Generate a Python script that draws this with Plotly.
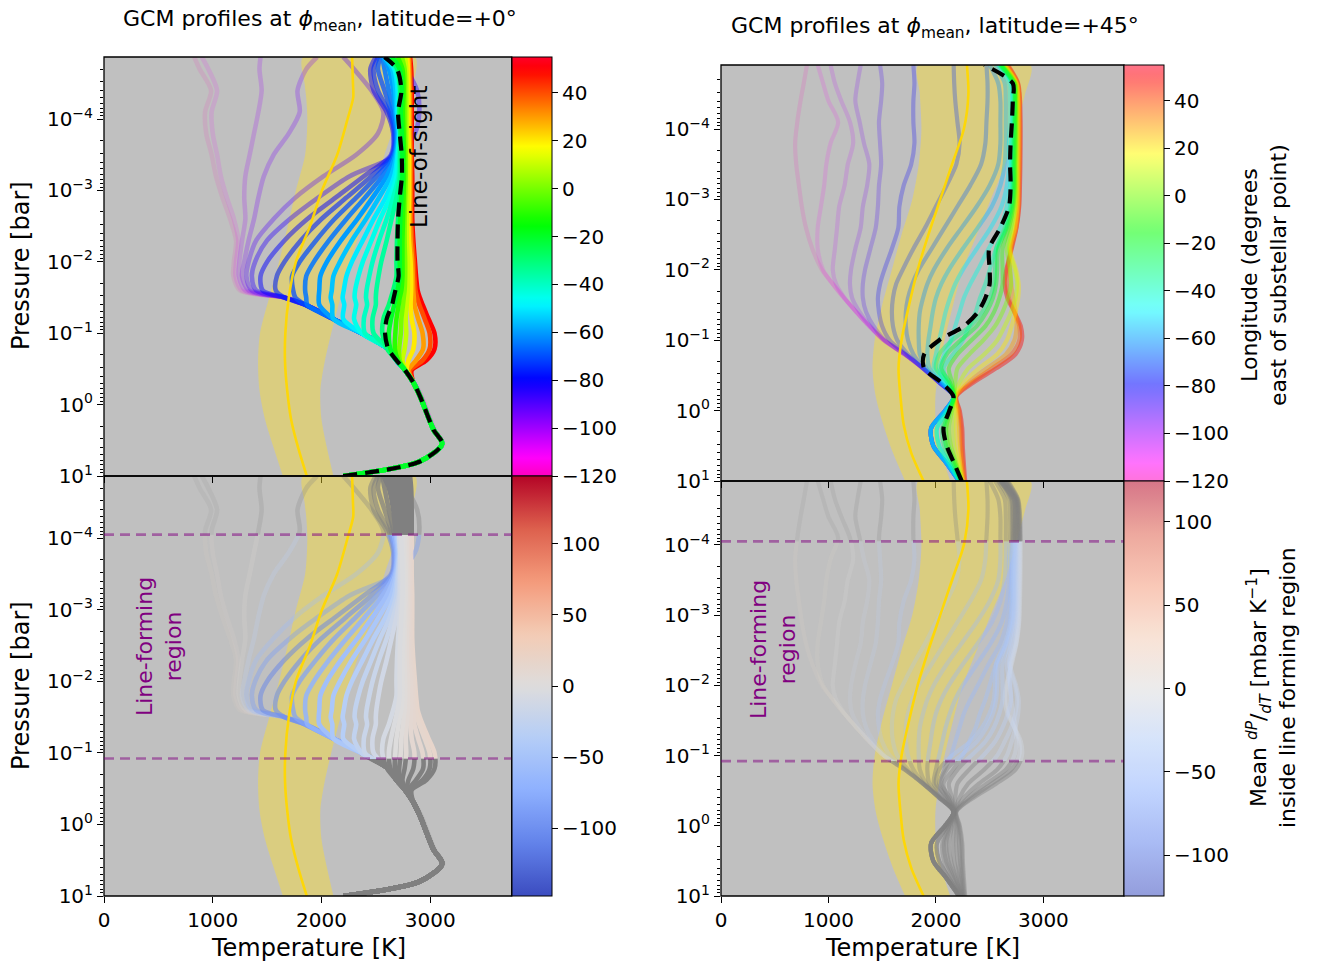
import numpy as np
import plotly.graph_objects as go

W, H = 1317, 963
FONT = "DejaVu Sans"

# ===================== DATA =====================
# ---- latitude = +0 deg : temperature profiles [K] on log10(p/bar) levels ----
LOGP_LAT0 = [1.0, 0.8, 0.55, 0.35, -0.12, -0.31, -0.48, -0.62, -0.78,
             -1.0, -1.2, -1.4, -1.5, -1.6, -1.8, -2.0, -2.3, -2.6, -2.9,
             -3.2, -3.5, -3.8, -4.1, -4.4, -4.7, -4.87]
T0_M120 = [2200, 2905, 3118, 3040, 2920, 2850, 2770, 2690, 2615, 2370, 2110, 1850, 1660, 1250, 1190, 1195, 1215, 1160, 1090, 1030, 990, 940, 930, 985, 880, 830]
T0_M110 = [2200, 2905, 3116, 3038, 2916, 2848, 2770, 2690, 2615, 2370, 2110, 1850, 1660, 1270, 1210, 1215, 1235, 1195, 1130, 1075, 1040, 1000, 990, 1040, 960, 900]
T0_M100 = [2200, 2903, 3114, 3035, 2912, 2847, 2770, 2690, 2615, 2370, 2110, 1850, 1660, 1300, 1240, 1245, 1270, 1300, 1290, 1300, 1340, 1380, 1420, 1450, 1430, 1440]
T0_M95 = [2200, 2902, 3112, 3033, 2909, 2846, 2770, 2690, 2615, 2370, 2110, 1850, 1660, 1330, 1270, 1290, 1330, 1380, 1420, 1470, 1560, 1700, 1800, 1780, 1860, 1960]
T0_M90 = [2200, 2900, 3110, 3030, 2906, 2845, 2770, 2690, 2615, 2370, 2110, 1850, 1660, 1360, 1310, 1330, 1400, 1560, 1760, 2020, 2320, 2520, 2570, 2460, 2300, 2200]
T0_M85 = [2200, 2900, 3110, 3030, 2906, 2845, 2770, 2690, 2615, 2370, 2110, 1850, 1660, 1400, 1360, 1390, 1500, 1710, 1970, 2260, 2700, 2860, 2900, 2880, 2780, 2700]
T0_M80 = [2200, 2900, 3110, 3030, 2906, 2845, 2770, 2690, 2615, 2370, 2110, 1850, 1660, 1460, 1440, 1500, 1660, 1870, 2130, 2390, 2640, 2660, 2600, 2480, 2450, 2500]
T0_M75 = [2200, 2900, 3110, 3030, 2906, 2845, 2770, 2690, 2615, 2370, 2110, 1850, 1660, 1580, 1590, 1660, 1810, 2000, 2230, 2460, 2650, 2670, 2620, 2520, 2480, 2520]
T0_M70 = [2200, 2900, 3110, 3030, 2906, 2845, 2770, 2690, 2615, 2370, 2110, 1850, 1760, 1740, 1730, 1800, 1950, 2120, 2320, 2510, 2660, 2680, 2640, 2580, 2520, 2540]
T0_M65 = [2200, 2900, 3110, 3030, 2906, 2845, 2770, 2690, 2615, 2370, 2110, 1870, 1860, 1850, 1860, 1930, 2070, 2230, 2400, 2560, 2670, 2690, 2660, 2620, 2580, 2560]
T0_M60 = [2200, 2900, 3110, 3030, 2906, 2845, 2770, 2690, 2615, 2370, 2110, 1980, 1975, 1980, 1990, 2050, 2180, 2330, 2470, 2600, 2680, 2700, 2680, 2660, 2620, 2570]
T0_M55 = [2200, 2900, 3110, 3030, 2906, 2845, 2770, 2690, 2615, 2370, 2110, 2100, 2085, 2095, 2110, 2170, 2280, 2410, 2530, 2640, 2690, 2710, 2690, 2680, 2650, 2580]
T0_M50 = [2200, 2900, 3110, 3030, 2906, 2845, 2770, 2690, 2615, 2370, 2200, 2210, 2195, 2205, 2230, 2280, 2380, 2480, 2590, 2670, 2700, 2715, 2700, 2700, 2670, 2590]
T0_M45 = [2200, 2900, 3110, 3030, 2906, 2845, 2770, 2690, 2615, 2370, 2300, 2320, 2305, 2310, 2340, 2380, 2460, 2540, 2630, 2690, 2705, 2720, 2710, 2715, 2680, 2600]
T0_M40 = [2200, 2900, 3110, 3030, 2906, 2845, 2770, 2690, 2615, 2400, 2390, 2420, 2410, 2415, 2440, 2470, 2530, 2600, 2660, 2710, 2715, 2725, 2715, 2720, 2690, 2610]
T0_M35 = [2200, 2900, 3110, 3030, 2906, 2845, 2770, 2690, 2615, 2480, 2470, 2500, 2500, 2505, 2525, 2550, 2600, 2645, 2690, 2720, 2725, 2730, 2720, 2730, 2700, 2620]
T0_M30 = [2200, 2900, 3110, 3030, 2906, 2845, 2770, 2690, 2605, 2560, 2570, 2620, 2640, 2660, 2690, 2690, 2695, 2705, 2720, 2730, 2730, 2725, 2715, 2725, 2700, 2620]
T0_M20 = [2200, 2900, 3110, 3030, 2906, 2845, 2770, 2695, 2635, 2620, 2640, 2670, 2685, 2700, 2720, 2720, 2720, 2725, 2735, 2745, 2745, 2740, 2730, 2740, 2720, 2650]
T0_M10 = [2200, 2900, 3110, 3030, 2906, 2845, 2770, 2705, 2675, 2680, 2690, 2710, 2720, 2735, 2745, 2745, 2745, 2750, 2755, 2760, 2760, 2755, 2750, 2755, 2745, 2700]
T0_P0 = [2200, 2900, 3110, 3030, 2906, 2845, 2772, 2720, 2715, 2730, 2735, 2750, 2757, 2765, 2770, 2770, 2765, 2765, 2770, 2775, 2775, 2770, 2770, 2770, 2765, 2740]
T0_P10 = [2200, 2900, 3110, 3030, 2906, 2845, 2776, 2745, 2765, 2780, 2775, 2785, 2790, 2795, 2795, 2795, 2785, 2785, 2790, 2790, 2790, 2785, 2785, 2785, 2780, 2770]
T0_P20 = [2200, 2900, 3110, 3030, 2906, 2845, 2785, 2800, 2845, 2855, 2830, 2820, 2822, 2825, 2825, 2820, 2805, 2800, 2805, 2805, 2805, 2800, 2800, 2800, 2795, 2790]
T0_P30 = [2200, 2900, 3110, 3030, 2906, 2845, 2800, 2870, 2935, 2930, 2890, 2855, 2850, 2845, 2840, 2835, 2820, 2815, 2815, 2815, 2815, 2810, 2810, 2810, 2805, 2800]
T0_P40 = [2200, 2900, 3110, 3030, 2906, 2845, 2815, 2930, 2995, 2995, 2950, 2900, 2880, 2865, 2855, 2850, 2835, 2825, 2825, 2825, 2825, 2820, 2820, 2820, 2815, 2810]
T0_P50 = [2200, 2900, 3110, 3030, 2906, 2845, 2830, 2965, 3040, 3040, 2985, 2930, 2905, 2885, 2870, 2860, 2845, 2835, 2835, 2835, 2830, 2830, 2830, 2830, 2825, 2815]
LOS_LAT0 = [2200, 2900, 3110, 3030, 2906, 2845, 2770, 2690, 2615, 2585, 2600, 2650, 2665, 2680, 2710, 2700, 2700, 2705, 2720, 2740, 2738, 2720, 2705, 2735, 2695, 2580]

LON_LAT0 = [-120, -110, -100, -95, -90, -85, -80, -75, -70, -65, -60, -55, -50,
            -45, -40, -35, -30, -20, -10, 0, 10, 20, 30, 40, 50]
PROF_LAT0 = [T0_M120, T0_M110, T0_M100, T0_M95, T0_M90, T0_M85, T0_M80, T0_M75,
             T0_M70, T0_M65, T0_M60, T0_M55, T0_M50, T0_M45, T0_M40, T0_M35,
             T0_M30, T0_M20, T0_M10, T0_P0, T0_P10, T0_P20, T0_P30, T0_P40, T0_P50]
DPDT_LAT0 = [20, 15, 5, -30, -60, -90, -110, -100, -85, -70, -55, -45, -35,
             -25, -18, -12, -8, -3, 0, 3, 6, 10, 12, 14, 16]

BAND_LOGP_LAT0 = [1.0, 0.6, 0.2, -0.2, -0.6, -1.0, -1.5, -2.0, -2.5, -3.0, -3.5, -4.0, -4.3, -4.5, -4.87]
BAND_MID_LAT0 = [1865, 1785, 1720, 1685, 1665, 1668, 1700, 1765, 1895, 2005, 2145, 2240, 2292, 2290, 2282]
BAND_LO_LAT0 = [1645, 1560, 1480, 1430, 1417, 1435, 1520, 1610, 1690, 1765, 1850, 1870, 1860, 1845, 1831]
BAND_HI_LAT0 = [2110, 2050, 2000, 1990, 2030, 2090, 2175, 2265, 2375, 2490, 2580, 2700, 2790, 2843, 2861]

# ---- latitude = +45 deg ----
LOGP_LAT45 = [1.0, 0.75, 0.5, 0.25, 0.0, -0.2, -0.4, -0.6, -0.8, -1.0, -1.2, -1.4,
              -1.6, -1.8, -2.0, -2.3, -2.6, -2.9, -3.2, -3.5, -3.8, -4.1, -4.4, -4.65, -4.91]
T45_M120 = [2215, 2100, 1975, 1955, 2085, 2165, 2030, 1880, 1710, 1515, 1380, 1260, 1145, 1040, 940, 850, 790, 752, 725, 700, 690, 710, 740, 770, 800]
T45_M112 = [2215, 2100, 1975, 1955, 2085, 2165, 2030, 1880, 1710, 1515, 1380, 1260, 1145, 1040, 950, 900, 900, 930, 960, 980, 1020, 1090, 1000, 950, 900]
T45_M104 = [2215, 2100, 1975, 1955, 2085, 2165, 2030, 1880, 1710, 1515, 1380, 1260, 1150, 1070, 1040, 1060, 1080, 1100, 1150, 1180, 1230, 1200, 1120, 1060, 1020]
T45_M96 = [2215, 2100, 1975, 1955, 2085, 2165, 2030, 1880, 1710, 1515, 1390, 1290, 1220, 1200, 1210, 1250, 1300, 1320, 1360, 1380, 1330, 1290, 1250, 1270, 1300]
T45_M88 = [2215, 2100, 1975, 1955, 2085, 2165, 2030, 1880, 1710, 1525, 1420, 1350, 1320, 1320, 1340, 1390, 1440, 1460, 1470, 1490, 1480, 1470, 1490, 1500, 1480]
T45_M80 = [2215, 2100, 1975, 1955, 2085, 2165, 2030, 1880, 1720, 1570, 1500, 1470, 1460, 1480, 1520, 1590, 1650, 1660, 1700, 1770, 1800, 1790, 1790, 1800, 1790]
T45_M74 = [2215, 2100, 1975, 1955, 2085, 2165, 2030, 1880, 1740, 1640, 1600, 1590, 1600, 1630, 1690, 1790, 1900, 2000, 2100, 2190, 2220, 2200, 2180, 2170, 2165]
T45_M68 = [2215, 2100, 1975, 1955, 2085, 2165, 2035, 1890, 1790, 1740, 1720, 1720, 1740, 1780, 1840, 1960, 2080, 2200, 2320, 2420, 2460, 2470, 2480, 2480, 2470]
T45_M62 = [2215, 2100, 1975, 1955, 2085, 2165, 2040, 1910, 1850, 1840, 1840, 1850, 1880, 1920, 1980, 2100, 2240, 2380, 2500, 2580, 2600, 2600, 2600, 2580, 2500]
T45_M56 = [2215, 2100, 1975, 1955, 2085, 2165, 2050, 1940, 1920, 1930, 1950, 1970, 2000, 2050, 2120, 2250, 2390, 2520, 2600, 2640, 2650, 2650, 2650, 2640, 2550]
T45_M50 = [2215, 2100, 1975, 1955, 2085, 2165, 2070, 1980, 2000, 2030, 2060, 2090, 2130, 2180, 2250, 2380, 2510, 2610, 2660, 2680, 2680, 2690, 2690, 2680, 2580]
T45_M44 = [2220, 2125, 2030, 2010, 2105, 2165, 2090, 2030, 2080, 2140, 2180, 2220, 2260, 2320, 2390, 2490, 2600, 2660, 2690, 2700, 2700, 2710, 2710, 2700, 2600]
T45_M38 = [2220, 2125, 2030, 2010, 2105, 2165, 2110, 2070, 2160, 2250, 2310, 2370, 2410, 2460, 2500, 2560, 2650, 2690, 2705, 2710, 2710, 2720, 2720, 2710, 2610]
T45_M30 = [2228, 2150, 2075, 2060, 2120, 2165, 2110, 2000, 2030, 2150, 2320, 2430, 2500, 2540, 2550, 2560, 2640, 2700, 2715, 2715, 2720, 2725, 2730, 2720, 2590]
T45_M20 = [2232, 2165, 2095, 2075, 2125, 2166, 2130, 2050, 2100, 2230, 2380, 2470, 2530, 2560, 2570, 2580, 2660, 2710, 2725, 2725, 2730, 2735, 2735, 2725, 2600]
T45_M10 = [2236, 2180, 2115, 2095, 2135, 2170, 2150, 2120, 2200, 2330, 2460, 2540, 2590, 2620, 2620, 2620, 2680, 2720, 2735, 2735, 2740, 2742, 2742, 2732, 2610]
T45_P0 = [2240, 2190, 2140, 2120, 2150, 2172, 2180, 2200, 2310, 2440, 2550, 2620, 2670, 2700, 2690, 2660, 2700, 2735, 2745, 2745, 2748, 2750, 2750, 2738, 2620]
T45_P10 = [2245, 2210, 2170, 2160, 2170, 2175, 2220, 2300, 2450, 2570, 2640, 2700, 2740, 2755, 2735, 2680, 2715, 2745, 2755, 2755, 2758, 2758, 2758, 2745, 2630]
T45_P20 = [2250, 2225, 2200, 2190, 2190, 2180, 2260, 2400, 2570, 2660, 2705, 2740, 2765, 2770, 2745, 2690, 2735, 2758, 2762, 2765, 2767, 2767, 2765, 2750, 2640]
T45_P30 = [2258, 2240, 2225, 2215, 2205, 2185, 2300, 2470, 2650, 2730, 2750, 2740, 2720, 2700, 2690, 2695, 2745, 2765, 2770, 2775, 2776, 2776, 2772, 2755, 2650]
T45_P40 = [2265, 2250, 2240, 2235, 2215, 2188, 2330, 2520, 2700, 2775, 2775, 2730, 2680, 2660, 2665, 2700, 2748, 2772, 2776, 2780, 2782, 2782, 2778, 2760, 2660]
T45_P50 = [2272, 2260, 2250, 2245, 2222, 2190, 2350, 2560, 2740, 2800, 2790, 2730, 2665, 2640, 2655, 2705, 2750, 2775, 2782, 2786, 2788, 2788, 2783, 2765, 2670]
LOS_LAT45 = [2240, 2170, 2100, 2070, 2125, 2163, 2050, 1890, 1890, 2030, 2260, 2390, 2460, 2500, 2500, 2495, 2600, 2680, 2695, 2690, 2695, 2707, 2715, 2715, 2450]

LON_LAT45 = [-120, -112, -104, -96, -88, -80, -74, -68, -62, -56, -50, -44, -38,
             -30, -20, -10, 0, 10, 20, 30, 40, 50]
PROF_LAT45 = [T45_M120, T45_M112, T45_M104, T45_M96, T45_M88, T45_M80, T45_M74,
              T45_M68, T45_M62, T45_M56, T45_M50, T45_M44, T45_M38, T45_M30,
              T45_M20, T45_M10, T45_P0, T45_P10, T45_P20, T45_P30, T45_P40, T45_P50]
DPDT_LAT45 = [15, 10, 0, -15, -25, -35, -40, -45, -50, -55, -55, -50, -45,
              -40, -35, -30, -25, -20, -15, -12, -10, -8]

BAND_LOGP_LAT45 = [1.0, 0.6, 0.2, -0.2, -0.6, -1.0, -1.5, -2.0, -2.5, -3.0, -3.5, -4.0, -4.5, -4.91]
BAND_MID_LAT45 = [1885, 1770, 1700, 1670, 1652, 1680, 1750, 1830, 1930, 2040, 2150, 2260, 2302, 2288]
BAND_LO_LAT45 = [1713, 1600, 1510, 1440, 1410, 1430, 1500, 1590, 1680, 1780, 1840, 1865, 1850, 1837]
BAND_HI_LAT45 = [2132, 2050, 2000, 1995, 2028, 2080, 2160, 2250, 2380, 2510, 2645, 2740, 2830, 2880]

LINE_FORMING_P = [0.12, 8.9e-5]      # bar, bottom / top of line-forming region
LON_RANGE = [-120, 55]
LOS_CENTRE_LON = -20
DPDT_MAX_LAT0 = 147.5
DPDT_MAX_LAT45 = 124.5
X_TICKS = [0, 1000, 2000, 3000]
Y_TICKS = [10, 1, 0.1, 0.01, 1e-3, 1e-4]
Y_TICKTEXT = ["10<sup>1</sup>", "10<sup>0</sup>", "10<sup>\u22121</sup>", "10<sup>\u22122</sup>",
              "10<sup>\u22123</sup>", "10<sup>\u22124</sup>"]
LON_TICKS = [-120, -100, -80, -60, -40, -20, 0, 20, 40]
DPDT_TICKS = [-100, -50, 0, 50, 100]

# ===================== STYLE =====================
RAINBOW_R = [(0.0, (255, 0, 191)), (0.046, (255, 0, 255)), (0.23, (0, 0, 255)),
             (0.414, (0, 255, 255)), (0.6, (0, 255, 0)), (0.785, (255, 255, 0)),
             (0.97, (255, 0, 0)), (1.0, (255, 0, 41))]
COOLWARM = [(0.0, (59, 76, 192)), (0.125, (98, 130, 234)), (0.25, (141, 176, 254)),
            (0.375, (180, 205, 247)), (0.5, (221, 220, 220)), (0.625, (243, 203, 180)),
            (0.75, (244, 154, 123)), (0.875, (221, 96, 77)), (1.0, (180, 4, 38))]
BG = "#c0c0c0"
GRAY = (128, 128, 128)
TICK_SIZE = 20
LABEL_SIZE = 24
TITLE_SIZE = 22


def cmap(stops, t):
    t = min(max(t, 0.0), 1.0)
    for (p0, c0), (p1, c1) in zip(stops[:-1], stops[1:]):
        if t <= p1:
            f = 0.0 if p1 == p0 else (t - p0) / (p1 - p0)
            return tuple(c0[i] + f * (c1[i] - c0[i]) for i in range(3))
    return stops[-1][1]


def rgba(c, a):
    return "rgba(%d,%d,%d,%.3f)" % (round(c[0]), round(c[1]), round(c[2]), a)


def scale_list(stops, alpha=1.0, n=48):
    out = []
    for i in range(n):
        c = cmap(stops, i / (n - 1))
        c = tuple(ci * alpha + 255 * (1 - alpha) for ci in c)
        out.append([i / (n - 1), "rgb(%d,%d,%d)" % tuple(round(v) for v in c)])
    return out


def alpha_lat0(lon):
    f = min(max((lon + 120) / 60.0, 0.0), 1.0)
    return 0.1 + 0.9 * f ** 2


def alpha_lat45(lon):
    f = min(max((lon + 120) / 70.0, 0.0), 1.0)
    return 0.42 * (0.3 + 0.7 * f ** 1.5)


# panel geometry (pixels)
LX = (104, 511.7)
RX = (721, 1124)
PAN = {
    "TL": dict(x=LX, y=(57, 476), ytop=-4.87),
    "BL": dict(x=LX, y=(476, 896), ytop=-4.87),
    "TR": dict(x=RX, y=(65, 481), ytop=-4.91),
    "BR": dict(x=RX, y=(481, 896), ytop=-4.91),
}


def xdom(p):
    return [p["x"][0] / W, p["x"][1] / W]


def ydom(p):
    return [1 - p["y"][1] / H, 1 - p["y"][0] / H]


def ypx(p, v):
    top, bot = p["y"]
    return bot - (1.0 - v) / (1.0 - p["ytop"]) * (bot - top)


fig = go.Figure()
SPL = dict(shape="spline", smoothing=0.8)


def add_band(xa, ya, logp, lo, hi):
    pr = [10 ** v for v in logp]
    fig.add_trace(go.Scatter(x=list(lo) + list(hi)[::-1], y=pr + pr[::-1], fill="toself",
                             fillcolor="rgba(255,225,40,0.42)", mode="lines",
                             line=dict(width=0, **SPL), xaxis=xa, yaxis=ya,
                             hoverinfo="skip", showlegend=False))


def add_mid(xa, ya, logp, mid):
    pr = [10 ** v for v in logp]
    fig.add_trace(go.Scatter(x=mid, y=pr, mode="lines", line=dict(color="rgba(255,215,0,0.95)", width=2.6, **SPL),
                             xaxis=xa, yaxis=ya, hoverinfo="skip", showlegend=False))


def add_prof(xa, ya, logp, T, color, width, dash=None):
    pr = [10 ** v for v in logp]
    ln = dict(color=color, width=width, **SPL)
    if dash:
        ln["dash"] = dash
    fig.add_trace(go.Scatter(x=T, y=pr, mode="lines", line=ln, xaxis=xa, yaxis=ya,
                             hoverinfo="skip", showlegend=False))


LATS = [
    dict(xt="x", yt="y", xb="x3", subs=["y5", "y6", "y7"],
         logp=LOGP_LAT0, lons=LON_LAT0, profs=PROF_LAT0, dpdt=DPDT_LAT0, los=LOS_LAT0,
         blogp=BAND_LOGP_LAT0, bmid=BAND_MID_LAT0, blo=BAND_LO_LAT0, bhi=BAND_HI_LAT0,
         afun=alpha_lat0, width=4.6, dmax=DPDT_MAX_LAT0),
    dict(xt="x2", yt="y2", xb="x4", subs=["y8", "y9", "y10"],
         logp=LOGP_LAT45, lons=LON_LAT45, profs=PROF_LAT45, dpdt=DPDT_LAT45, los=LOS_LAT45,
         blogp=BAND_LOGP_LAT45, bmid=BAND_MID_LAT45, blo=BAND_LO_LAT45, bhi=BAND_HI_LAT45,
         afun=alpha_lat45, width=4.2, dmax=DPDT_MAX_LAT45),
]

rlo = np.log10(LINE_FORMING_P[0])
rhi = np.log10(LINE_FORMING_P[1])

for L in LATS:
    # draw profiles far from the line-of-sight longitude first
    order = sorted(range(len(L["lons"])), key=lambda i: -abs(L["lons"][i] - LOS_CENTRE_LON))
    # ---- top panel: coloured by longitude
    add_band(L["xt"], L["yt"], L["blogp"], L["blo"], L["bhi"])
    for i in order:
        lon, T = L["lons"][i], L["profs"][i]
        c = cmap(RAINBOW_R, (lon - LON_RANGE[0]) / (LON_RANGE[1] - LON_RANGE[0]))
        add_prof(L["xt"], L["yt"], L["logp"], T, rgba(c, L["afun"](lon)), L["width"])
    add_prof(L["xt"], L["yt"], L["logp"], L["los"], "black", 4.2, dash="14px,8px")
    add_mid(L["xt"], L["yt"], L["blogp"], L["bmid"])
    # ---- bottom panel: three stacked sub-axes (below, line-forming, above)
    for k, ys in enumerate(L["subs"]):
        add_band(L["xb"], ys, L["blogp"], L["blo"], L["bhi"])
        for i in order:
            lon, T, d = L["lons"][i], L["profs"][i], L["dpdt"][i]
            if k == 1:
                c = cmap(COOLWARM, (d + L["dmax"]) / (2 * L["dmax"]))
            else:
                c = GRAY
            add_prof(L["xb"], ys, L["logp"], T, rgba(c, L["afun"](lon)), L["width"])
        add_mid(L["xb"], ys, L["blogp"], L["bmid"])

# dummy traces for colour bars
for ca, xa, ya in [("coloraxis", "x", "y"), ("coloraxis2", "x3", "y3"),
                   ("coloraxis3", "x2", "y2"), ("coloraxis4", "x4", "y4")]:
    fig.add_trace(go.Scatter(x=[-500], y=[1], mode="markers",
                             marker=dict(color=[0], coloraxis=ca, size=2),
                             xaxis=xa, yaxis=ya, hoverinfo="skip", showlegend=False))

tickfont = dict(family=FONT, size=TICK_SIZE, color="black")


def xaxis_cfg(p, anchor, labels):
    return dict(domain=xdom(p), range=[0, 3750], anchor=anchor, tickmode="array",
                tickvals=X_TICKS, ticks="outside", ticklen=6, tickwidth=1.2,
                tickcolor="black", showticklabels=labels, tickfont=tickfont,
                showgrid=False, zeroline=False, showline=False, fixedrange=True,
                automargin=False)


def yaxis_cfg(p, anchor):
    return dict(domain=ydom(p), range=[1, p["ytop"]], type="log", anchor=anchor,
                tickmode="array", tickvals=Y_TICKS, ticktext=Y_TICKTEXT,
                ticks="outside", ticklen=6, tickwidth=1.2, tickcolor="black",
                tickfont=tickfont, showgrid=False, zeroline=False, showline=False,
                minor=dict(ticks="outside", ticklen=3.5, tickwidth=0.9, tickcolor="black",
                           dtick="D1", showgrid=False),
                fixedrange=True, automargin=False)


layout = dict(
    xaxis=xaxis_cfg(PAN["TL"], "y", False), yaxis=yaxis_cfg(PAN["TL"], "x"),
    xaxis2=xaxis_cfg(PAN["TR"], "y2", False), yaxis2=yaxis_cfg(PAN["TR"], "x2"),
    xaxis3=xaxis_cfg(PAN["BL"], "y3", True), yaxis3=yaxis_cfg(PAN["BL"], "x3"),
    xaxis4=xaxis_cfg(PAN["BR"], "y4", True), yaxis4=yaxis_cfg(PAN["BR"], "x4"),
)

for pkey, xa, names in [("BL", "x3", ["yaxis5", "yaxis6", "yaxis7"]),
                        ("BR", "x4", ["yaxis8", "yaxis9", "yaxis10"])]:
    p = PAN[pkey]
    bands = [(1.0, rlo), (rlo, rhi), (rhi, p["ytop"])]
    for name, (va, vb) in zip(names, bands):
        layout[name] = dict(domain=[1 - ypx(p, va) / H, 1 - ypx(p, vb) / H], range=[va, vb],
                            type="log", anchor=xa, visible=False, fixedrange=True)


def cbar(p, vals, text):
    return dict(thickness=40, thicknessmode="pixels", len=(p["y"][1] - p["y"][0]) / H,
                lenmode="fraction", x=p["x"][1] / W, xanchor="left", xpad=0,
                y=1 - (p["y"][0] + p["y"][1]) / 2 / H, yanchor="middle", ypad=0,
                outlinewidth=1, outlinecolor="black", ticks="outside", ticklen=6,
                tickwidth=1.2, tickcolor="black", tickfont=tickfont,
                tickmode="array", tickvals=vals, ticktext=text)


def neg(v):
    return ("\u2212%d" % abs(v)) if v < 0 else "%d" % v


lon_text = [neg(v) for v in LON_TICKS]
dp_text = [neg(v) for v in DPDT_TICKS]

layout["coloraxis"] = dict(cmin=LON_RANGE[0], cmax=LON_RANGE[1], colorscale=scale_list(RAINBOW_R),
                           colorbar=cbar(PAN["TL"], LON_TICKS, lon_text))
layout["coloraxis2"] = dict(cmin=-DPDT_MAX_LAT0, cmax=DPDT_MAX_LAT0, colorscale=scale_list(COOLWARM),
                            colorbar=cbar(PAN["BL"], DPDT_TICKS, dp_text))
layout["coloraxis3"] = dict(cmin=LON_RANGE[0], cmax=LON_RANGE[1], colorscale=scale_list(RAINBOW_R, 0.55),
                            colorbar=cbar(PAN["TR"], LON_TICKS, lon_text))
layout["coloraxis4"] = dict(cmin=-DPDT_MAX_LAT45, cmax=DPDT_MAX_LAT45, colorscale=scale_list(COOLWARM, 0.55),
                            colorbar=cbar(PAN["BR"], DPDT_TICKS, dp_text))

shapes = []
for key, p in PAN.items():
    x0, x1 = p["x"]
    y0, y1 = p["y"]
    shapes.append(dict(type="rect", xref="paper", yref="paper", x0=x0 / W, x1=x1 / W,
                       y0=1 - y1 / H, y1=1 - y0 / H, fillcolor=BG, line=dict(width=0), layer="below"))
for key, p in PAN.items():
    x0, x1 = p["x"]
    y0, y1 = p["y"]
    shapes.append(dict(type="rect", xref="paper", yref="paper", x0=x0 / W, x1=x1 / W,
                       y0=1 - y1 / H, y1=1 - y0 / H, fillcolor="rgba(0,0,0,0)",
                       line=dict(color="black", width=1.3), layer="above"))
for key in ["BL", "BR"]:
    p = PAN[key]
    for v in (rlo, rhi):
        yy = 1 - ypx(p, v) / H
        shapes.append(dict(type="line", xref="paper", yref="paper", x0=p["x"][0] / W,
                           x1=p["x"][1] / W, y0=yy, y1=yy, layer="above",
                           line=dict(color="rgba(128,0,128,0.5)", width=2.6, dash="10px,6px")))


def ann(text, xp, yp, size=22, angle=0, color="black"):
    return dict(text=text, x=xp / W, y=1 - yp / H, xref="paper", yref="paper",
                showarrow=False, textangle=angle, xanchor="center", yanchor="middle",
                font=dict(family=FONT, size=size, color=color))


annotations = [
    ann("GCM profiles at <i>\u03d5</i><sub>mean</sub>, latitude=+0\u00b0", 320, 20, size=TITLE_SIZE),
    ann("GCM profiles at <i>\u03d5</i><sub>mean</sub>, latitude=+45\u00b0", 935, 27, size=TITLE_SIZE),
    ann("Pressure [bar]", 21, 266, size=LABEL_SIZE, angle=-90),
    ann("Pressure [bar]", 21, 686, size=LABEL_SIZE, angle=-90),
    ann("Temperature [K]", 308, 948, size=LABEL_SIZE),
    ann("Temperature [K]", 922, 948, size=LABEL_SIZE),
    ann("Line-of-sight", 419, 157, size=23, angle=-90),
    ann("Line-forming<br>region", 159, 647, angle=-90, color="purple"),
    ann("Line-forming<br>region", 773, 650, angle=-90, color="purple"),
    ann("Longitude (degrees<br>east of substellar point)", 1264, 275, angle=-90),
    ann("Mean <sup><i>dP</i></sup>/<sub><i>dT</i></sub> [mbar K<sup>\u22121</sup>]<br>inside line forming region",
        1271, 688, angle=-90),
]

fig.update_layout(width=W, height=H,
                  margin=dict(l=0, r=0, t=0, b=0, pad=0, autoexpand=False),
                  paper_bgcolor="white", plot_bgcolor="rgba(0,0,0,0)", showlegend=False,
                  shapes=shapes, annotations=annotations, **layout)

fig.write_html("out.html")
